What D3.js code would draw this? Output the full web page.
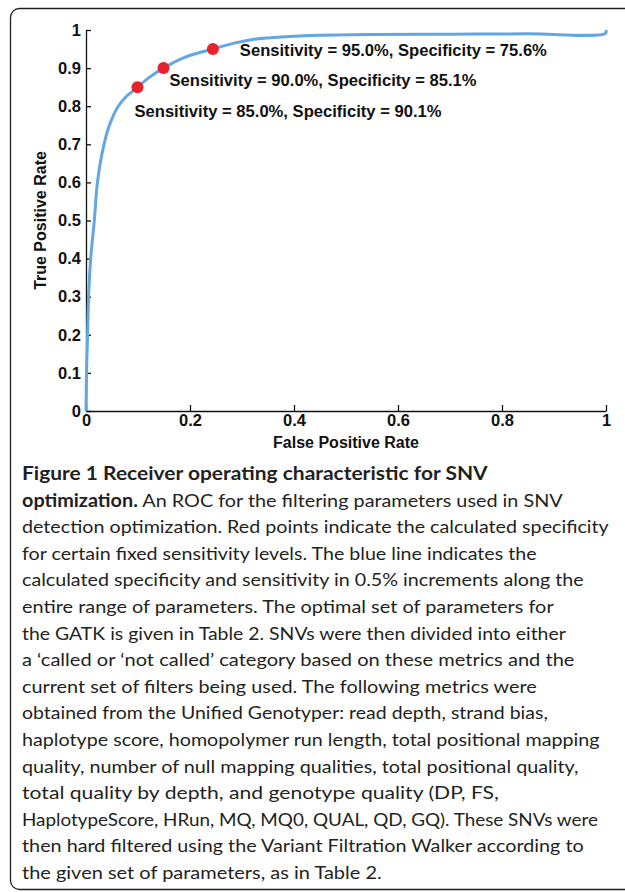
<!DOCTYPE html>
<html>
<head>
<meta charset="utf-8">
<title>ROC for SNV optimization</title>
<script src="https://cdn.jsdelivr.net/npm/d3@7"></script>
<style>
  body { margin: 0; background: #fff; }
  .plot text { font-family: "Liberation Sans", Arial, Helvetica, sans-serif; font-weight: bold; fill: #111; }
  .caption text { font-family: Lato, "Open Sans", sans-serif; fill: #231f20; }
</style>
</head>
<body>
<div id="chart"></div>
<script>

// ROC curve (false positive rate, true positive rate)
var fpr = [0, 0.001, 0.003, 0.005, 0.009, 0.016, 0.022, 0.033, 0.045, 0.062, 0.078, 0.099, 0.123, 0.149, 0.193, 0.244, 0.283, 0.315, 0.35, 0.41, 0.45, 0.55, 0.7, 0.85, 0.999, 1];
var tpr = [0, 0.1, 0.2, 0.3, 0.4, 0.5, 0.6, 0.69, 0.75, 0.8, 0.826, 0.85, 0.877, 0.9, 0.93, 0.95, 0.965, 0.974, 0.979, 0.984, 0.986, 0.988, 0.989, 0.99, 0.991, 1];

// red points: fixed sensitivity levels and the specificity reached
var pointSens = [0.95, 0.90, 0.85];
var pointSpec = [0.756, 0.851, 0.901];

var xTicks = [0, 0.2, 0.4, 0.6, 0.8, 1];
var yTicks = [0, 0.1, 0.2, 0.3, 0.4, 0.5, 0.6, 0.7, 0.8, 0.9, 1];

var captionLines = [
  [["Figure 1 Receiver operating characteristic for SNV", true]],
  [["optimization.", true], [" An ROC for the filtering parameters used in SNV", false]],
  [["detection optimization. Red points indicate the calculated specificity", false]],
  [["for certain fixed sensitivity levels. The blue line indicates the", false]],
  [["calculated specificity and sensitivity in 0.5% increments along the", false]],
  [["entire range of parameters. The optimal set of parameters for", false]],
  [["the GATK is given in Table 2. SNVs were then divided into either", false]],
  [["a \u2018called or \u2018not called\u2019 category based on these metrics and the", false]],
  [["current set of filters being used. The following metrics were", false]],
  [["obtained from the Unified Genotyper: read depth, strand bias,", false]],
  [["haplotype score, homopolymer run length, total positional mapping", false]],
  [["quality, number of null mapping qualities, total positional quality,", false]],
  [["total quality by depth, and genotype quality (DP, FS,", false]],
  [["HaplotypeScore, HRun, MQ, MQ0, QUAL, QD, GQ). These SNVs were", false]],
  [["then hard filtered using the Variant Filtration Walker according to", false]],
  [["the given set of parameters, as in Table 2.", false]]
];
// right end of each caption line in the figure
var captionEnds = [488, 563, 609, 537, 584, 554, 566, 575, 537, 548, 600, 579, 499, 598, 584, 382];

// label placement relative to each red point (px)
var labelOffset = [[27, 6.5], [6, 18], [-3, 29.7]];

var W = 625, H = 892;
var svg = d3.select("#chart").append("svg")
    .attr("width", W)
    .attr("height", H);

// rounded frame, cut off on the right
svg.append("rect")
    .attr("x", 10.5).attr("y", 8.5)
    .attr("width", 700).attr("height", 881)
    .attr("rx", 9)
    .style("fill", "none")
    .style("stroke", "#231f20")
    .style("stroke-width", 1.3);

var x = d3.scaleLinear().domain([0, 1]).range([86, 606]);
var y = d3.scaleLinear().domain([0, 1]).range([411, 30]);

var plot = svg.append("g").attr("class", "plot");

var fmt = function(d) { return d3.format("~g")(d); };

var gx = plot.append("g")
    .attr("transform", "translate(0," + y(0) + ")")
    .call(d3.axisBottom(x).tickValues(xTicks).tickFormat(fmt)
      .tickSizeInner(-6).tickSizeOuter(0).tickPadding(3));

var gy = plot.append("g")
    .attr("transform", "translate(" + x(0) + ",0)")
    .call(d3.axisLeft(y).tickValues(yTicks).tickFormat(fmt)
      .tickSizeInner(-5).tickSizeOuter(0).tickPadding(5));

plot.selectAll(".domain, .tick line")
    .style("stroke", "#111")
    .style("stroke-width", 1.3);
plot.selectAll(".tick text")
    .attr("font-family", null)
    .style("font-size", "16.5px");
gx.attr("font-family", null).attr("font-size", null);
gy.attr("font-family", null).attr("font-size", null);

plot.append("text")
    .attr("x", (x(0) + x(1)) / 2)
    .attr("y", 448)
    .style("text-anchor", "middle")
    .style("font-size", "16px")
    .text("False Positive Rate");

plot.append("text")
    .attr("transform", "translate(46," + (y(0) + y(1)) / 2 + ") rotate(-90)")
    .style("text-anchor", "middle")
    .style("font-size", "16px")
    .text("True Positive Rate");

// ROC line
var line = d3.line()
    .x(function(d) { return x(d[0]); })
    .y(function(d) { return y(d[1]); })
    .curve(d3.curveCatmullRom.alpha(0.5));

plot.append("path")
    .datum(d3.zip(fpr, tpr))
    .attr("d", line)
    .style("fill", "none")
    .style("stroke", "#62a6e2")
    .style("stroke-width", 3)
    .style("stroke-linejoin", "round");

var pts = pointSens.map(function(s, i) {
  return { sens: s, spec: pointSpec[i], fpr: 1 - pointSpec[i], off: labelOffset[i] };
});

plot.selectAll(".pt")
    .data(pts)
    .enter()
    .append("circle")
      .attr("class", "pt")
      .attr("cx", function(d) { return x(d.fpr); })
      .attr("cy", function(d) { return y(d.sens); })
      .attr("r", 6)
      .style("fill", "#e8222b");

var pct = d3.format(".1f");
plot.selectAll(".lbl")
    .data(pts)
    .enter()
    .append("text")
      .attr("class", "lbl")
      .attr("x", function(d) { return x(d.fpr) + d.off[0]; })
      .attr("y", function(d) { return y(d.sens) + d.off[1]; })
      .attr("textLength", 307)
      .attr("lengthAdjust", "spacingAndGlyphs")
      .style("font-size", "16.5px")
      .text(function(d) {
        return "Sensitivity = " + pct(d.sens * 100) + "%, Specificity = " + pct(d.spec * 100) + "%";
      });

// caption
var cap = svg.append("g").attr("class", "caption");
var capLeft = 22, capTop = 480, capStep = 26.6;

captionLines.forEach(function(parts, i) {
  var t = cap.append("text")
      .attr("x", 0).attr("y", 0)
      .style("font-size", "18px");
  parts.forEach(function(p) {
    t.append("tspan")
      .style("font-weight", p[1] ? "bold" : "normal")
      .text(p[0]);
  });
  var w = t.node().getComputedTextLength();
  var k = (captionEnds[i] - capLeft) / w;
  t.attr("transform", "translate(" + capLeft + "," + (capTop + i * capStep) + ") scale(" + k + ",1)");
});

</script>
</body>
</html>
